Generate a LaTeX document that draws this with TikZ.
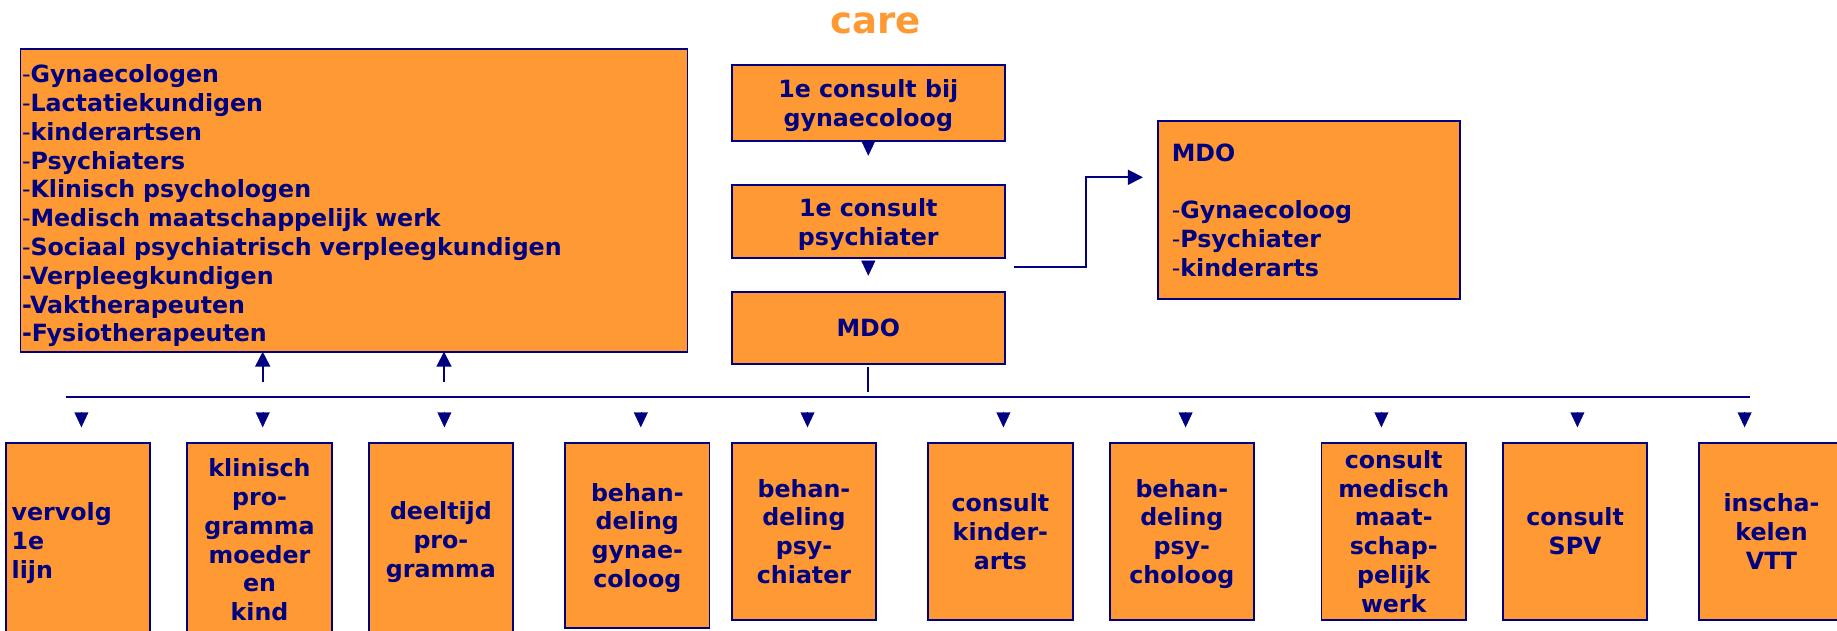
\documentclass[tikz,border=0pt]{standalone}
\usepackage{fontspec}
\setmainfont{DejaVu Sans}
\usetikzlibrary{positioning,arrows.meta}
\definecolor{careorange}{RGB}{255,153,51}
\definecolor{carenavy}{RGB}{0,0,128}
\newcommand{\thindash}{{\mdseries -}}

\begin{document}
\begin{tikzpicture}[x=1pt, y=-1pt, line width=1.8pt, >={Triangle[width=15pt,length=15pt]}]
\tikzstyle{every node}=[font=\fontsize{23.7}{28.8}\selectfont\bfseries, text=carenavy]
\tikzstyle{box}=[rectangle, draw=carenavy, fill=careorange, outer sep=0pt, inner sep=1.5pt]
\tikzstyle{centred}=[box, align=center, text depth=0pt]
\tikzstyle{small}=[centred, minimum width=144.4pt, minimum height=177.3pt]
\tikzstyle{conn}=[draw=carenavy, line width=1.8pt]
\tikzstyle{tri}=[draw=carenavy, line width=0.4pt, -{Triangle[width=14pt,length=15pt]}]
\clip (0,0) rectangle (1837,631);

\node [font=\fontsize{37}{44}\selectfont\bfseries, text=careorange, anchor=base] (title) at (875.3,34) {care};

\node [box, anchor=north west, minimum width=667pt, minimum height=302.7pt, text width=664pt, text height=29pt, align=left] (team) at (20.5,49)
  {\thindash Gynaecologen\\ \thindash Lactatiekundigen\\ \thindash kinderartsen\\ \thindash Psychiaters\\
   \thindash Klinisch psychologen\\ \thindash Medisch maatschappelijk werk\\
   \thindash Sociaal psychiatrisch verpleegkundigen\\ -Verpleegkundigen\\ -Vaktherapeuten\\ -Fysiotherapeuten};

\node [centred, anchor=north west, minimum width=273.4pt, minimum height=75.7pt] (gyn) at (731.6,65) {1e consult bij\\gynaecoloog};
\node [centred, minimum width=273.4pt, minimum height=73.3pt] (psy) [below=44.3pt of gyn] {1e consult\\psychiater};
\node [centred, minimum width=273.4pt, minimum height=72.6pt] (mdo) [below=33.4pt of psy] {MDO};

\node [box, anchor=north west, minimum width=302.4pt, minimum height=178.6pt, inner xsep=14pt, text width=274pt, align=left] (mdoteam) at (1157.6,120.7)
  {MDO\\ \mbox{}\\ \thindash Gynaecoloog\\ \thindash Psychiater\\ \thindash kinderarts};

\node [box, anchor=north west, minimum width=144.4pt, minimum height=193.8pt, inner xsep=5.8pt, text width=132.8pt, text height=25.5pt, align=left] (b1) at (5.9,442.7) {vervolg\\1e\\lijn};
\node [small, minimum height=193.8pt] (b2) [right=37pt of b1.north east, anchor=north west] {klinisch\\pro-\\gramma\\moeder\\en\\kind};
\node [small, minimum height=193.8pt] (b3) [right=37pt of b2.north east, anchor=north west] {deeltijd\\pro-\\gramma};
\node [small, minimum height=185.3pt] (b4) [right=52pt of b3.north east, anchor=north west] {behan-\\deling\\gynae-\\coloog};
\node [small] (b5) [right=22.3pt of b4.north east, anchor=north west] {behan-\\deling\\psy-\\chiater};
\node [small] (b6) [right=52pt of b5.north east, anchor=north west] {consult\\kinder-\\arts};
\node [small] (b7) [right=37pt of b6.north east, anchor=north west] {behan-\\deling\\psy-\\choloog};
\node [small] (b8) [right=67.5pt of b7.north east, anchor=north west] {consult\\medisch\\maat-\\schap-\\pelijk\\werk};
\node [small] (b9) [right=37pt of b8.north east, anchor=north west] {consult\\SPV};
\node [small] (b10) [right=52pt of b9.north east, anchor=north west] {inscha-\\kelen\\VTT};

\coordinate (busl) at (65.7,397.3);
\coordinate (busr) at (1750.4,397.3);
\coordinate (from) at (1013.8,266.7);
\coordinate (to) at (1142.9,177.3);
\coordinate (up1) at (262.7,381.7);
\coordinate (up2) at (444,381.7);

\draw [tri, shorten >=29.3pt] (gyn.south) -- (psy.north);
\draw [tri, shorten <=2.4pt, shorten >=16pt] (psy.south) -- (mdo.north);
\draw [conn, ->] (from) -- ++(71.9,0) |- (to);
\draw [conn, shorten <=3pt, shorten >=5.6pt] (mdo.south) -- (mdo.south |- busl);
\draw [conn] (busl) -- (busr);
\draw [conn, ->] (up1) -- (up1 |- team.south);
\draw [conn, ->] (up2) -- (up2 |- team.south);

\draw [tri, shorten <=15pt, shorten >=15.4pt] ([xshift=3.3pt]b1.north |- busl) -- ([xshift=3.3pt]b1.north);
\draw [tri, shorten <=15pt, shorten >=15.4pt] ([xshift=3.2pt]b2.north |- busl) -- ([xshift=3.2pt]b2.north);
\draw [tri, shorten <=15pt, shorten >=15.4pt] ([xshift=3.5pt]b3.north |- busl) -- ([xshift=3.5pt]b3.north);
\draw [tri, shorten <=15pt, shorten >=15.4pt] ([xshift=3.5pt]b4.north |- busl) -- ([xshift=3.5pt]b4.north);
\draw [tri, shorten <=15pt, shorten >=15.4pt] ([xshift=3.5pt]b5.north |- busl) -- ([xshift=3.5pt]b5.north);
\draw [tri, shorten <=15pt, shorten >=15.4pt] ([xshift=3pt]b6.north |- busl) -- ([xshift=3pt]b6.north);
\draw [tri, shorten <=15pt, shorten >=15.4pt] ([xshift=3.8pt]b7.north |- busl) -- ([xshift=3.8pt]b7.north);
\draw [tri, shorten <=15pt, shorten >=15.4pt] ([xshift=-12.3pt]b8.north |- busl) -- ([xshift=-12.3pt]b8.north);
\draw [tri, shorten <=15pt, shorten >=15.4pt] ([xshift=2.3pt]b9.north |- busl) -- ([xshift=2.3pt]b9.north);
\draw [tri, shorten <=15pt, shorten >=15.4pt] ([xshift=-26.9pt]b10.north |- busl) -- ([xshift=-26.9pt]b10.north);
\end{tikzpicture}
\end{document}
